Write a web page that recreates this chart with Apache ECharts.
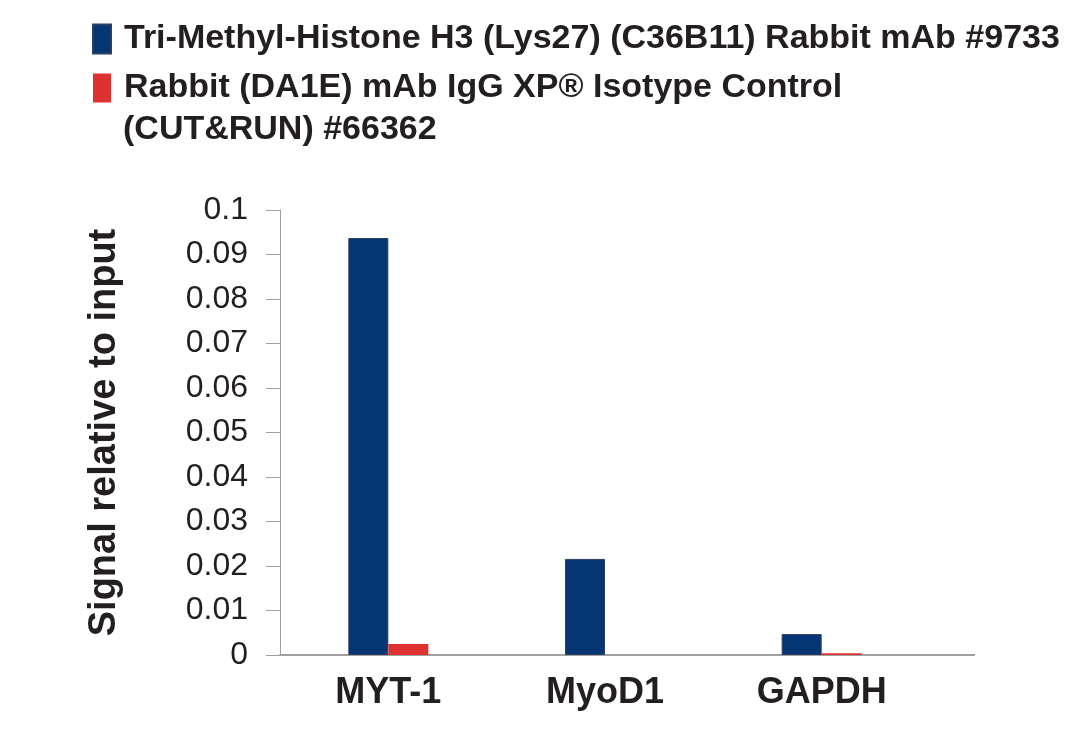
<!DOCTYPE html>
<html><head><meta charset="utf-8">
<script src="https://cdn.jsdelivr.net/npm/echarts@6/dist/echarts.min.js"></script>
<style>html,body{margin:0;padding:0;background:#fff}#c{width:1084px;height:730px}</style>
</head><body><div id="c"></div>
<script>
var categories = ['MYT-1', 'MyoD1', 'GAPDH'];
var seriesNames = ['Tri-Methyl-Histone H3 (Lys27) (C36B11) Rabbit mAb #9733',
  'Rabbit (DA1E) mAb IgG XP® Isotype Control\n(CUT&RUN) #66362'];
var triMethylValues = [0.0937, 0.0216, 0.0047];
var isotypeValues = [0.0025, 0, 0.0004];
var yTicks = [0, 0.01, 0.02, 0.03, 0.04, 0.05, 0.06, 0.07, 0.08, 0.09, 0.1];

var FONT = '"Liberation Sans", Arial, sans-serif';
var TXT = '#231f20';
var chart = echarts.init(document.getElementById('c'));
chart.setOption({
  animation: false,
  color: ['#063574', '#de3232'],
  legend: {
    orient: 'vertical', left: 92, top: 22, padding: 0, itemWidth: 18, itemHeight: 29, itemGap: 15,
    icon: 'rect', selectedMode: false,
    formatter: function (n) { return n.split('\n')[0]; },
    textStyle: { fontFamily: FONT, fontSize: 34, fontWeight: 'bold', color: TXT, lineHeight: 29, padding: [0,0,0,8] },
    data: seriesNames
  },
  grid: { left: 280, top: 210, bottom: 75, width: 650 },
  xAxis: {
    type: 'category', data: categories,
    axisLine: { lineStyle: { color: '#a0a0a0', width: 2 } },
    axisTick: { show: false },
    axisLabel: { fontFamily: FONT, fontSize: 36, fontWeight: 'bold', color: TXT, margin: 20 }
  },
  yAxis: {
    type: 'value', min: 0, max: 0.1, interval: 0.01,
    name: 'Signal relative to input', nameLocation: 'middle', nameGap: 156, nameRotate: 90,
    nameTextStyle: { fontFamily: FONT, fontSize: 38, fontWeight: 'bold', color: TXT },
    axisLine: { show: true, lineStyle: { color: '#a0a0a0', width: 1 } },
    axisTick: { show: true, length: 14, lineStyle: { color: '#a0a0a0' } },
    splitLine: { show: false },
    axisLabel: { fontFamily: FONT, fontSize: 32, color: TXT, margin: 32,
      formatter: function (v) { return yTicks.some(function(t){return Math.abs(t-v)<1e-9;}) ? String(+v.toFixed(2)) : ''; } }
  },
  series: [
    { name: seriesNames[0], type: 'bar', data: triMethylValues, barWidth: 40, barGap: '0%',
      itemStyle: { borderColor: '#2a3f66', borderWidth: 1 } },
    { name: seriesNames[1], type: 'bar', data: isotypeValues, barWidth: 40, barGap: '0%',
      itemStyle: { borderWidth: 0 } }
  ]
});
var y0 = chart.convertToPixel({ yAxisIndex: 0 }, 0);
chart.setOption({
  graphic: [
    { type: 'text', left: 123, top: 113, silent: true,
      style: { text: seriesNames[1].split('\n')[1], font: 'bold 34px ' + FONT, fill: TXT } },
    { type: 'line', silent: true, z: 0,
      shape: { x1: 930, y1: y0, x2: 975, y2: y0 }, style: { stroke: '#a0a0a0', lineWidth: 2 } }
  ]
});
</script></body></html>
